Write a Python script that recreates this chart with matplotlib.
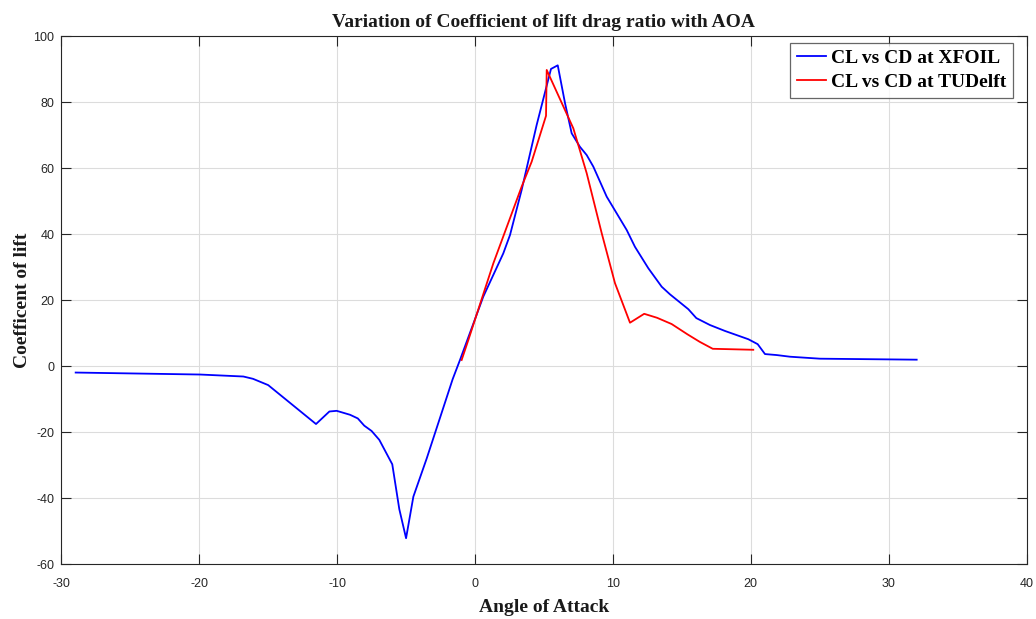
import matplotlib
matplotlib.use("Agg")
import matplotlib.pyplot as plt

plt.rcParams["axes.unicode_minus"] = False

# XFOIL data (angle of attack, CL/CD)
xfoil_aoa = [-28.96, -19.94, -16.8, -16.1, -15.0, -11.53, -10.56, -10.03, -9.06, -8.5,
             -8.03, -7.5, -6.94, -6.0, -5.49, -5.0, -4.47, -3.5, -1.62, -1.09, 0.6,
             2.05, 2.54, 3.38, 4.47, 5.51, 6.0, 6.53, 7.01, 7.61, 8.1, 8.58, 9.55,
             11.0, 11.6, 12.57, 13.54, 14.14, 15.47, 16.05, 17.04, 18.13, 19.82,
             20.5, 21.03, 21.88, 22.84, 25.02, 32.03]
xfoil_ratio = [-1.9, -2.5, -3.1, -3.8, -5.7, -17.5, -13.7, -13.5, -14.7, -15.8,
               -18.0, -19.6, -22.3, -29.7, -43.3, -52.1, -39.5, -27.9, -3.9, 1.9, 21.1,
               34.2, 39.8, 53.4, 73.1, 90.1, 91.2, 79.7, 70.6, 66.5, 64.0, 60.5, 51.4,
               41.3, 36.2, 29.7, 24.1, 21.8, 17.3, 14.6, 12.5, 10.7, 8.2,
               6.7, 3.7, 3.4, 2.9, 2.3, 2.0]

# TU Delft data
tud_aoa = [-0.97, -0.48, 1.33, 3.38, 4.11, 5.15, 5.2, 7.13, 8.1, 9.19, 10.15,
           11.24, 12.27, 13.2, 14.26, 15.4, 16.3, 17.24, 20.18]
tud_ratio = [1.9, 8.0, 31.2, 54.4, 62.0, 75.9, 89.8, 72.1, 58.5, 40.3, 25.2,
             13.2, 15.9, 14.7, 12.8, 9.7, 7.4, 5.3, 5.0]

x_ticks = [-30, -20, -10, 0, 10, 20, 30, 40]
y_ticks = [-60, -40, -20, 0, 20, 40, 60, 80, 100]

fig = plt.figure(figsize=(10.36, 6.19), dpi=100)
ax = fig.add_axes([0.0592, 0.0884, 0.9317, 0.853])

ax.plot(xfoil_aoa, xfoil_ratio, color="#0000ff", lw=1.3, label="CL vs CD at XFOIL")
ax.plot(tud_aoa, tud_ratio, color="#ff0000", lw=1.3, label="CL vs CD at TUDelft")

ax.set_xlim(-30, 40)
ax.set_ylim(-60, 100)
ax.set_xticks(x_ticks)
ax.set_yticks(y_ticks)
ax.grid(True, color="#dcdcdc", lw=0.8)
ax.set_axisbelow(True)
ax.tick_params(direction="in", top=True, right=True, length=7, width=0.8,
               labelsize=9, labelcolor="#262626", color="#262626")
ax.tick_params(axis="x", pad=10)
ax.tick_params(axis="y", pad=5)
for lab in ax.get_xticklabels() + ax.get_yticklabels():
    lab.set_family("Liberation Sans")
for s in ax.spines.values():
    s.set_color("#262626")
    s.set_linewidth(0.8)

serif = {"family": "Liberation Serif", "weight": "bold", "size": 14, "color": "#1a1a1a"}
ax.set_title("Variation of Coefficient of lift drag ratio with AOA", fontdict=serif, pad=7)
ax.set_xlabel("Angle of Attack", fontdict=serif, labelpad=6)
ax.set_ylabel("Coefficent of lift", fontdict=serif, labelpad=2)

leg = ax.legend(loc="upper right", bbox_to_anchor=(0.9859, 0.9879),
                prop={"family": "Liberation Serif", "weight": "bold", "size": 14},
                frameon=True, fancybox=False, edgecolor="#404040", handlelength=1.5,
                handletextpad=0.25, borderpad=0.35, labelspacing=0.32, borderaxespad=0.0)
leg.get_frame().set_linewidth(0.9)
for t in leg.get_texts():
    t.set_color("#000000")

fig.savefig("out.png", dpi=100)
